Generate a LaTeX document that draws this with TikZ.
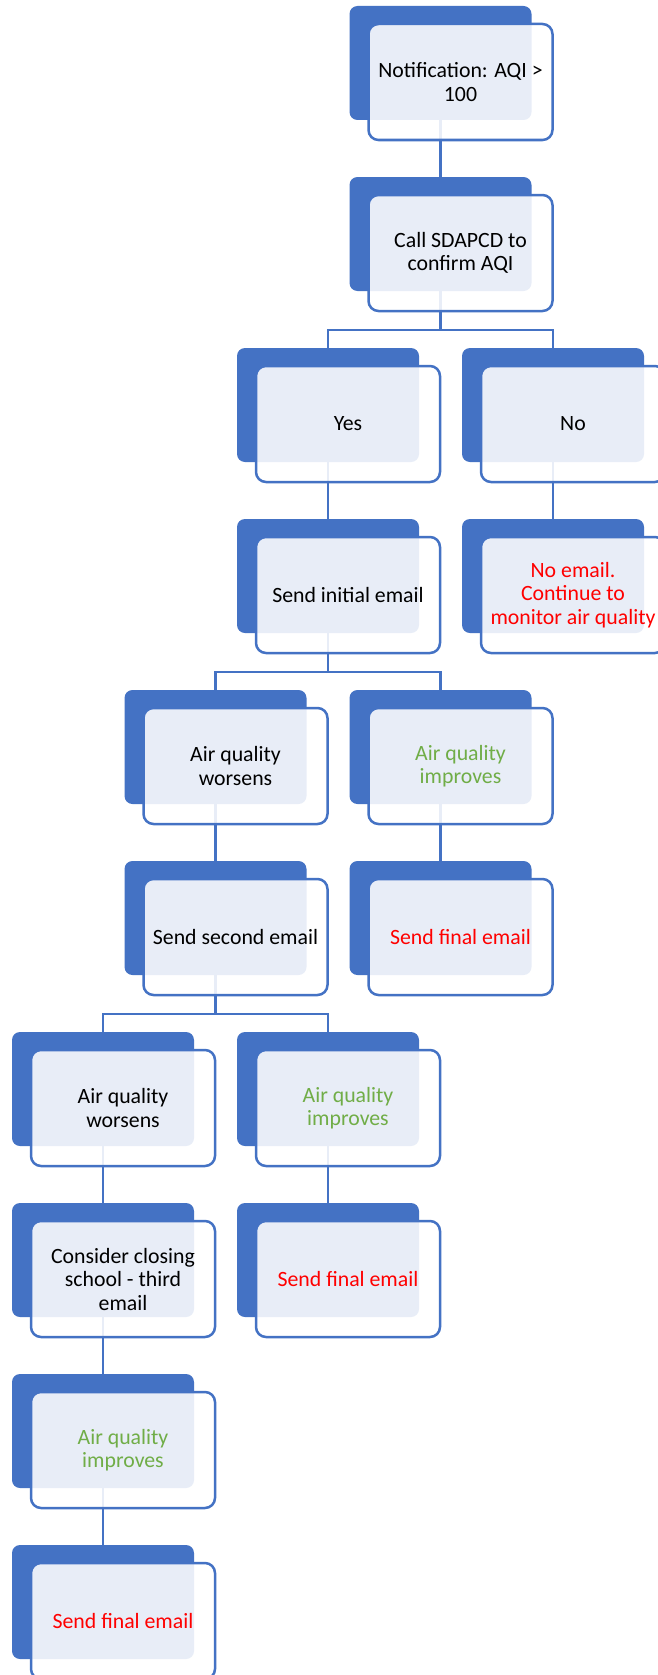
\documentclass[tikz,border=0pt]{standalone}
\usepackage{fontspec}
\setmainfont{Carlito}
\definecolor{accent}{HTML}{4472C4}
\definecolor{alert}{HTML}{FF0000}
\definecolor{good}{HTML}{70AD47}
\tikzset{back/.style={fill=accent,rounded corners=8pt,minimum width=182pt,minimum height=114pt,inner sep=0pt},
  card/.style={draw=accent,line width=2.5pt,fill=white,fill opacity=0.88,text opacity=1,rounded corners=10pt,
    minimum width=184pt,minimum height=116pt,inner sep=0pt,align=center,font=\fontsize{21.8}{23.5}\selectfont},
  link/.style={draw=accent,line width=2.5pt}}

\begin{document}
\begin{tikzpicture}[x=1pt,y=-1pt]
\fill[white] (0,0) rectangle (657,1675);
\useasboundingbox (0,0) rectangle (657,1675);

% back plates
\node[back] (notifB) at (440.5,63) {};
\node[back] (callB) at (440.5,234) {};
\node[back] (yesB) at (328,405) {};
\node[back] (noB) at (553,405) {};
\node[back] (initB) at (328,576) {};
\node[back] (nomailB) at (553,576) {};
\node[back] (worse1B) at (215.5,747) {};
\node[back] (better1B) at (440.5,747) {};
\node[back] (secondB) at (215.5,918) {};
\node[back] (final1B) at (440.5,918) {};
\node[back] (worse2B) at (103,1089) {};
\node[back] (better2B) at (328,1089) {};
\node[back] (closeB) at (103,1260) {};
\node[back] (final2B) at (328,1260) {};
\node[back] (better3B) at (103,1431) {};
\node[back] (final3B) at (103,1602) {};

% links
\draw[link] (notifB.south) -- (callB.north);
\draw[link] (callB.south) -- ++(0,39) -| (yesB.north);
\draw[link] (callB.south) ++(0,39) -| (noB.north);
\draw[link] (yesB.south) -- (initB.north);
\draw[link] (noB.south) -- (nomailB.north);
\draw[link] (initB.south) -- ++(0,39) -| (worse1B.north);
\draw[link] (initB.south) ++(0,39) -| (better1B.north);
\draw[link] (worse1B.south) -- (secondB.north);
\draw[link] (better1B.south) -- (final1B.north);
\draw[link] (secondB.south) -- ++(0,39) -| (worse2B.north);
\draw[link] (secondB.south) ++(0,39) -| (better2B.north);
\draw[link] (worse2B.south) -- (closeB.north);
\draw[link] (better2B.south) -- (final2B.north);
\draw[link] (closeB.south) -- (better3B.north);
\draw[link] (better3B.south) -- (final3B.north);

% cards
\node[card] (notif) at (460.5,82) {Notification: AQI >\\100};
\node[card] (call) at (460.5,253) {Call SDAPCD to\\confirm AQI};
\node[card] (yes) at (348,424) {Yes};
\node[card] (no) at (573,424) {No};
\node[card] (init) at (348,595) {Send initial email};
\node[card,text=alert] (nomail) at (573,595) {No email.\\Continue to\\monitor air quality};
\node[card] (worse1) at (235.5,766) {Air quality\\worsens};
\node[card,text=good] (better1) at (460.5,766) {Air quality\\improves};
\node[card] (second) at (235.5,937) {Send second email};
\node[card,text=alert] (final1) at (460.5,937) {Send final email};
\node[card] (worse2) at (123,1108) {Air quality\\worsens};
\node[card,text=good] (better2) at (348,1108) {Air quality\\improves};
\node[card] (close) at (123,1279) {Consider closing\\school - third\\email};
\node[card,text=alert] (final2) at (348,1279) {Send final email};
\node[card,text=good] (better3) at (123,1450) {Air quality\\improves};
\node[card,text=alert] (final3) at (123,1621) {Send final email};
\end{tikzpicture}
\end{document}
